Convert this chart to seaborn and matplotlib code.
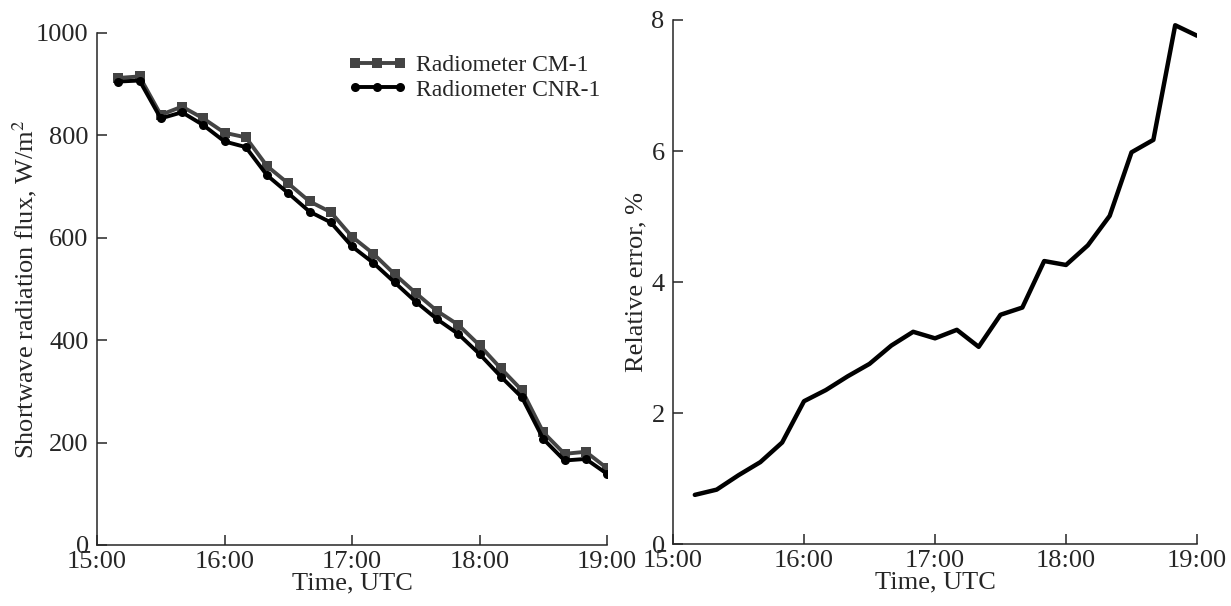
import matplotlib

matplotlib.use("Agg")
import matplotlib.pyplot as plt
import pandas as pd
import seaborn as sns

# time of each reading, hours UTC (15:10 ... 19:00, every 10 min)
TIME_LABELS = [
    "15:10", "15:20", "15:30", "15:40", "15:50", "16:00",
    "16:10", "16:20", "16:30", "16:40", "16:50", "17:00",
    "17:10", "17:20", "17:30", "17:40", "17:50", "18:00",
    "18:10", "18:20", "18:30", "18:40", "18:50", "19:00",
]

CM1_FLUX = [
    912, 915, 840, 856, 833, 805, 796, 740, 706, 671, 650, 602,
    569, 529, 492, 457, 430, 390, 345, 302, 220, 178, 182, 150,
]
CNR1_FLUX = [
    905, 907, 833, 845, 820, 788, 777, 722, 687, 651, 630, 583,
    551, 513, 475, 441, 412, 373, 329, 288, 207, 165, 168, 139,
]
REL_ERROR = [
    0.75, 0.83, 1.05, 1.25, 1.55, 2.18, 2.35, 2.56, 2.75, 3.03, 3.24, 3.14,
    3.27, 3.01, 3.50, 3.61, 4.32, 4.26, 4.56, 5.01, 5.98, 6.17, 7.92, 7.76,
]

X_TICKS = ["15:00", "16:00", "17:00", "18:00", "19:00"]


def to_hours(label: str) -> float:
    h, m = label.split(":")
    return int(h) + int(m) / 60


sns.set_style("ticks")
plt.rcParams["font.family"] = ["Liberation Serif", "DejaVu Serif"]
plt.rcParams["mathtext.fontset"] = "stix"

df = pd.DataFrame(
    {
        "hours": [to_hours(t) for t in TIME_LABELS],
        "cm1": CM1_FLUX,
        "cnr1": CNR1_FLUX,
        "err": REL_ERROR,
    }
)
tick_pos = [to_hours(t) for t in X_TICKS]

fig = plt.figure(figsize=(12.31, 6.06), dpi=100)
ax1 = fig.add_axes([0.0788, 0.1007, 0.4143, 0.845])
ax2 = fig.add_axes([0.5467, 0.1023, 0.4257, 0.8647])

sns.lineplot(
    data=df, x="hours", y="cm1", ax=ax1, color="#444444", linewidth=2.8,
    marker="s", markersize=7, markeredgewidth=0, label="Radiometer CM-1",
)
sns.lineplot(
    data=df, x="hours", y="cnr1", ax=ax1, color="black", linewidth=2.8,
    marker="o", markersize=6.5, markeredgewidth=0, label="Radiometer CNR-1",
)
sns.lineplot(data=df, x="hours", y="err", ax=ax2, color="black", linewidth=3.2)

for ax in (ax1, ax2):
    sns.despine(ax=ax)
    ax.set_xlim(15, 19)
    ax.set_xticks(tick_pos)
    ax.set_xticklabels(X_TICKS)
    ax.tick_params(direction="in", length=7, width=1.1, labelsize=19, pad=4)
    ax.tick_params(axis="y", pad=6)
    for s in ("left", "bottom"):
        ax.spines[s].set_linewidth(1.1)
    ax.set_xlabel("Time, UTC", fontsize=19, labelpad=0)

ax1.set_ylim(0, 1000)
ax1.set_yticks([0, 200, 400, 600, 800, 1000])
ax1.set_ylabel("Shortwave radiation flux, W/m$^2$", fontsize=19, labelpad=-2)

ax2.set_ylim(0, 8)
ax2.set_yticks([0, 2, 4, 6, 8])
ax2.set_ylabel("Relative error, %", fontsize=19, labelpad=3)

ax1.legend(
    loc="upper right", bbox_to_anchor=(1.015, 0.985), frameon=False, fontsize=17,
    numpoints=3, handlelength=2.5, handletextpad=0.4, labelspacing=0.12,
    borderaxespad=0.2,
)

fig.savefig("out.png", dpi=100)
